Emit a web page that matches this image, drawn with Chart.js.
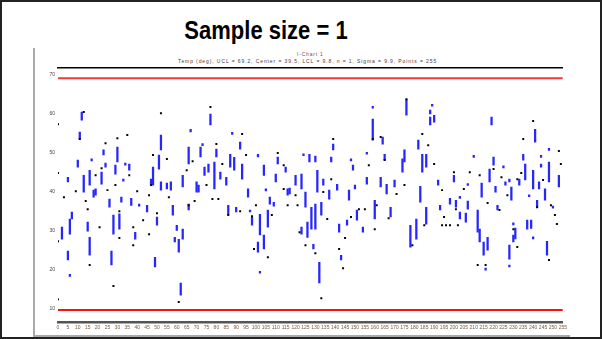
<!DOCTYPE html>
<html>
<head>
<meta charset="utf-8">
<script src="https://cdn.jsdelivr.net/npm/chart.js@4/dist/chart.umd.min.js"></script>
<style>
    html, body { margin: 0; padding: 0; background: #fff; }
    #card {
        position: relative; width: 602px; height: 339px; box-sizing: border-box;
        border: 2px solid #222; background: #fff; overflow: hidden;
        font-family: 'Liberation Sans', Arial, sans-serif;
    }
    #title {
        position: absolute; left: 0; top: 19.4px; width: 528px; text-align: center;
        font-size: 22px; line-height: 22px; font-weight: bold; color: #000;
        transform: scaleY(1.2); transform-origin: 50% 18.6px;
    }
    #frame {
        position: absolute; left: 31px; top: 46px; width: 535px; height: 287px;
        border-left: 2px solid #aaa; border-bottom: 2px solid #aaa;
    }
    .tiny { position: absolute; font-size: 5px; line-height: 5px; white-space: nowrap; }
    #wrap { position: absolute; left: 33px; top: 58px; }
</style>
</head>
<body>
<div id="card">
    <div id="title">Sample size = 1</div>
    <div id="frame"></div>
    <div class="tiny" style="left:295px; top:50px; color:#8a4a2a; letter-spacing:0.8px;">I-Chart 1</div>
    <div class="tiny" style="left:176px; top:57px; color:#4a3a3a; letter-spacing:0.9px;">Temp (deg), UCL = 69.2, Center = 39.5, LCL = 9.8, n = 1, Sigma = 9.9, Points = 255</div>
    <div id="wrap"><canvas id="chart" width="535" height="279"></canvas></div>
</div>
<script>
// control limits
const ucl = 69.2;
const lcl = 9.8;
const yTicks = [10, 20, 30, 40, 50, 60, 70];

// blue vertical segments: sample no., low value, high value
const segSample = [2, 5, 5, 6, 6, 7, 10, 11, 12, 13, 15, 16, 16, 17, 18, 19, 22, 23, 24, 26,
    27, 28, 29, 30, 31, 32, 33, 34, 36, 37, 39, 41, 45, 47, 48, 49, 50, 51, 52, 52,
    55, 57, 58, 59, 60, 61, 62, 63, 63, 66, 66, 67, 70, 71, 72, 73, 74, 76, 77, 79,
    80, 82, 85, 86, 87, 88, 89, 90, 92, 93, 96, 97, 98, 101, 101, 102, 102, 104, 104, 105,
    106, 107, 109, 110, 111, 115, 116, 117, 120, 123, 123, 124, 125, 126, 127, 128, 129, 130, 130, 131,
    132, 133, 134, 137, 138, 139, 141, 142, 143, 146, 147, 148, 149, 150, 151, 154, 156, 156, 159, 159,
    160, 163, 164, 165, 166, 168, 170, 174, 175, 176, 178, 181, 182, 183, 184, 186, 186, 188, 188, 189,
    190, 192, 193, 198, 200, 201, 203, 203, 206, 207, 207, 210, 212, 213, 214, 215, 216, 217, 218, 219,
    220, 221, 222, 225, 226, 228, 228, 228, 229, 230, 230, 231, 233, 235, 236, 237, 238, 239, 240, 240,
    241, 242, 243, 244, 244, 246, 247, 248, 248, 250, 253];
const segLow = [27.9, 42.6, 22.6, 29.2, 18.4, 33.1, 46.4, 53.6, 58.4, 40.0, 30.0, 41.8, 23.8, 48.0, 38.7, 39.2, 42.0, 49.5, 46.4, 36.1,
    21.3, 29.2, 44.6, 47.7, 30.5, 37.4, 42.8, 46.9, 45.6, 36.6, 27.9, 36.4, 34.9, 41.8, 41.8, 20.8, 31.5, 45.9, 50.8, 40.5,
    40.8, 40.5, 34.1, 27.2, 30.2, 24.6, 13.6, 41.3, 27.9, 47.2, 35.4, 55.4, 40.0, 40.0, 49.0, 51.9, 44.3, 45.1, 57.2, 40.8,
    49.0, 43.3, 41.8, 34.3, 46.4, 54.8, 45.6, 34.9, 51.0, 43.3, 38.7, 34.9, 31.5, 24.6, 49.0, 29.0, 19.2, 44.3, 25.4, 40.3,
    31.0, 36.9, 36.4, 42.6, 47.2, 45.1, 39.2, 39.5, 41.8, 40.8, 29.2, 49.3, 36.1, 28.4, 47.7, 30.5, 25.4, 47.7, 30.5, 40.0,
    16.7, 34.1, 41.8, 38.2, 47.7, 50.8, 40.5, 29.7, 22.6, 31.5, 37.9, 48.0, 45.6, 40.8, 32.8, 29.7, 42.0, 49.7, 61.5, 53.3,
    33.1, 41.3, 52.3, 48.2, 39.5, 33.6, 41.3, 45.1, 47.7, 59.7, 25.9, 27.9, 51.0, 37.4, 45.1, 46.4, 31.8, 60.0, 57.2, 62.0,
    57.9, 41.8, 35.4, 36.9, 42.6, 36.1, 38.4, 33.1, 32.3, 35.6, 41.7, 48.9, 29.7, 27.2, 38.7, 23.8, 20.0, 25.1, 42.6, 57.2,
    46.9, 40.0, 35.4, 46.2, 41.8, 42.6, 22.8, 20.8, 37.9, 31.6, 27.2, 28.0, 41.8, 48.2, 43.1, 30.5, 38.8, 30.7, 40.8, 28.0,
    52.8, 36.1, 40.8, 48.9, 46.4, 37.9, 23.8, 50.7, 42.6, 35.9, 41.3];
const segHigh = [31.0, 43.8, 24.9, 33.1, 18.9, 34.9, 48.2, 55.4, 60.5, 44.3, 32.3, 45.6, 28.4, 48.5, 40.5, 40.8, 45.1, 50.8, 47.4, 38.2,
    24.9, 34.1, 46.9, 51.5, 34.4, 38.7, 43.3, 47.4, 47.2, 38.4, 29.7, 36.9, 36.6, 43.3, 46.4, 23.3, 33.6, 49.5, 54.6, 42.6,
    42.3, 42.6, 36.6, 28.4, 31.5, 27.9, 16.7, 44.3, 30.5, 51.5, 36.9, 56.1, 42.6, 41.8, 51.5, 52.4, 46.4, 47.2, 60.0, 47.7,
    51.0, 45.1, 43.8, 36.6, 49.7, 55.3, 48.9, 36.1, 52.8, 47.2, 40.8, 35.4, 33.6, 27.2, 49.7, 34.3, 19.7, 46.9, 29.0, 40.8,
    35.4, 38.7, 37.4, 44.6, 49.0, 46.4, 40.8, 41.0, 44.3, 44.6, 31.0, 49.8, 40.0, 32.3, 49.7, 36.1, 26.6, 49.2, 36.9, 45.6,
    22.0, 37.4, 43.3, 40.5, 49.0, 52.3, 42.0, 31.8, 23.8, 32.8, 40.5, 48.5, 46.9, 41.8, 35.4, 31.0, 43.8, 50.2, 62.0, 58.7,
    37.9, 43.8, 54.1, 49.7, 42.0, 36.1, 43.1, 48.5, 50.8, 63.8, 31.5, 33.1, 53.3, 41.5, 49.7, 49.7, 36.1, 61.0, 59.2, 62.5,
    59.7, 43.1, 36.6, 38.4, 44.3, 37.9, 38.9, 34.9, 34.6, 37.7, 42.2, 49.4, 35.4, 30.5, 42.3, 27.2, 20.5, 28.4, 45.9, 59.2,
    49.0, 41.5, 36.6, 46.7, 42.6, 43.3, 26.4, 21.3, 41.3, 32.1, 29.0, 30.8, 43.3, 49.7, 47.2, 32.8, 39.3, 32.8, 45.6, 28.5,
    56.1, 37.9, 42.6, 49.4, 47.2, 40.8, 27.4, 51.2, 47.7, 36.4, 44.3];

// black point markers: sample no., value
const dotSample = [0, 0, 0, 0, 3, 9, 11, 13, 14, 15, 16, 19, 21, 22, 24, 25, 28, 29, 30, 31,
    31, 35, 36, 38, 38, 40, 43, 46, 46, 47, 48, 50, 52, 55, 56, 61, 65, 66, 68, 69,
    75, 77, 78, 80, 81, 83, 86, 92, 93, 95, 98, 99, 100, 106, 108, 111, 114, 114, 116, 120,
    121, 122, 125, 130, 133, 134, 136, 138, 139, 142, 144, 145, 148, 152, 155, 157, 159, 160, 161, 163,
    165, 167, 171, 175, 176, 179, 184, 185, 187, 190, 194, 194, 195, 196, 198, 200, 201, 202, 205, 208,
    212, 213, 216, 217, 220, 223, 224, 227, 230, 232, 232, 234, 235, 240, 242, 245, 248, 249, 251, 252,
    253, 254];
const dotValue = [57.4, 44.9, 27.4, 12.5, 38.7, 40.2, 53.6, 60.5, 37.7, 35.6, 21.3, 44.3, 31.0, 46.1, 52.5, 40.5, 15.9, 41.8, 53.8, 28.2,
    35.1, 54.6, 44.3, 31.0, 26.4, 40.2, 32.8, 39.2, 29.2, 41.8, 49.5, 34.6, 60.2, 48.5, 38.7, 11.8, 45.6, 36.6, 47.9, 37.7,
    41.8, 61.8, 38.2, 52.3, 38.2, 47.2, 34.1, 35.1, 54.9, 49.5, 33.8, 25.4, 36.6, 23.3, 34.1, 50.0, 46.9, 40.8, 36.6, 39.2,
    36.6, 29.7, 26.4, 24.3, 12.8, 40.0, 33.1, 43.3, 53.6, 25.4, 20.5, 28.2, 33.6, 35.6, 35.6, 46.9, 53.6, 30.5, 36.6, 54.1,
    48.2, 33.3, 39.5, 41.8, 63.8, 26.4, 54.9, 31.5, 52.0, 47.2, 40.5, 31.5, 33.6, 31.5, 31.5, 45.1, 35.6, 31.5, 40.8, 45.1,
    21.3, 44.3, 21.3, 37.2, 45.9, 35.4, 43.8, 39.2, 30.5, 43.3, 25.9, 44.9, 53.6, 58.2, 36.1, 43.1, 22.6, 36.6, 34.1, 31.8,
    50.5, 47.2];

const firstSample = 0;
const lastSample = 255;

const tinyFont = { family: "'Liberation Sans', Arial, sans-serif", size: 5 };

new Chart(document.getElementById('chart'), {
    type: 'bar',
    data: {
        datasets: [
            {
                type: 'scatter',
                data: dotSample.map((s, i) => ({ x: s, y: dotValue[i] })),
                backgroundColor: '#000',
                borderColor: '#000',
                pointStyle: 'rect',
                pointRadius: 1.4,
                borderWidth: 0,
            },
            {
                type: 'bar',
                data: segSample.map((s, i) => ({ x: s, y: [segLow[i], segHigh[i]] })),
                backgroundColor: '#2626ff',
                barThickness: 1.6,
                grouped: false,
            },
            {
                type: 'line',
                data: [{ x: firstSample, y: ucl }, { x: lastSample, y: ucl }],
                borderColor: '#f03a3a',
                borderWidth: 2,
                pointRadius: 0,
            },
            {
                type: 'line',
                data: [{ x: firstSample, y: lcl }, { x: lastSample, y: lcl }],
                borderColor: '#ff1010',
                borderWidth: 2,
                pointRadius: 0,
            },
        ],
    },
    options: {
        responsive: false,
        animation: false,
        devicePixelRatio: 1,
        layout: { padding: { top: 8, right: 0, left: 0, bottom: 0 } },
        plugins: { legend: { display: false }, tooltip: { enabled: false } },
        scales: {
            x: {
                type: 'linear',
                min: firstSample,
                max: lastSample,
                offset: false,
                grid: { display: false, drawTicks: false },
                border: { display: true, color: '#555', width: 2.5 },
                ticks: {
                    stepSize: 5,
                    autoSkip: false,
                    maxRotation: 0,
                    padding: 3,
                    color: '#7a5a3a',
                    font: tinyFont,
                },
                afterFit: (s) => { s.height = 17; },
            },
            x2: {
                type: 'linear',
                position: 'top',
                min: firstSample,
                max: lastSample,
                grid: { display: false, drawTicks: false },
                border: { display: true, color: '#000', width: 1.5 },
                ticks: { display: false },
                afterFit: (s) => { s.height = 0; },
            },
            y: {
                min: 6.7,
                max: 71.8,
                grid: { display: false, drawTicks: false },
                border: { display: false },
                afterBuildTicks: (s) => { s.ticks = yTicks.map((v) => ({ value: v })); },
                ticks: { padding: 3, color: '#444', font: tinyFont },
                afterFit: (s) => { s.width = 23; },
            },
        },
    },
});
</script>
</body>
</html>
